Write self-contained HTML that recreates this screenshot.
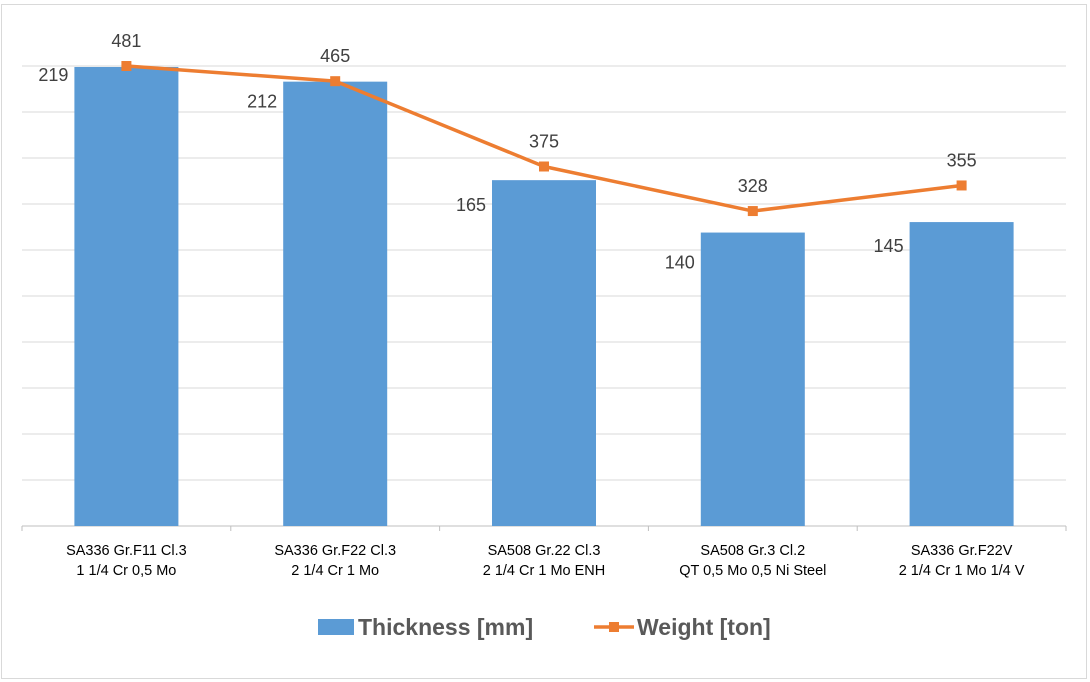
<!DOCTYPE html>
<html><head><meta charset="utf-8"><style>
body{margin:0;background:#fff;}
svg{display:block;font-family:"Liberation Sans",sans-serif;}
</style></head><body>
<svg id="c" width="1090" height="682"></svg>
<script>
const categories1=["SA336 Gr.F11 Cl.3","SA336 Gr.F22 Cl.3","SA508 Gr.22 Cl.3","SA508 Gr.3 Cl.2","SA336 Gr.F22V"];
const categories2=["1 1/4 Cr 0,5 Mo","2 1/4 Cr 1 Mo","2 1/4 Cr 1 Mo ENH","QT 0,5 Mo 0,5 Ni Steel","2 1/4 Cr 1 Mo 1/4 V"];
const thickness=[219,212,165,140,145];
const weight=[481,465,375,328,355];
const NS="http://www.w3.org/2000/svg";
const svg=document.getElementById('c');
function mk(t,a,p){const e=document.createElementNS(NS,t);for(const k in a)e.setAttribute(k,a[k]);(p||svg).appendChild(e);return e;}
const x0=22,x1=1066,base=526,n=categories1.length,cw=(x1-x0)/n;
const labelDrop=[14,26,31,36,30];
const yBar=v=>base-v*2.096;
const yLine=v=>522-v*0.948;
const xc=i=>x0+cw*(i+0.5);
let e;
e=mk('rect',{x:1.5,y:4.5,width:1085,height:674,fill:'#fff',stroke:'#d9d9d9'});


for(let k=1;k<=10;k++){const y=base-46*k;
e=mk('line',{x1:x0,x2:x1,y1:y,y2:y,stroke:'#d9d9d9'});

}
e=mk('line',{x1:x0,x2:x1,y1:base,y2:base,stroke:'#bfbfbf'});


for(let i=0;i<=n;i++){const x=x0+cw*i;
e=mk('line',{x1:x,x2:x,y1:base,y2:base+5,stroke:'#bfbfbf'});

}
thickness.forEach((v,i)=>{
e=mk('rect',{x:xc(i)-52,y:yBar(v),width:104,height:base-yBar(v),fill:'#5b9bd5'});


e=mk('text',{x:xc(i)-58,y:yBar(v)+labelDrop[i],'text-anchor':'end','font-size':18,fill:'#404040'});
e.textContent=v;


e=mk('text',{x:xc(i),y:555,'text-anchor':'middle','font-size':14.5,fill:'#000'});e.textContent=categories1[i];


e=mk('text',{x:xc(i),y:575,'text-anchor':'middle','font-size':14.5,fill:'#000'});e.textContent=categories2[i];


});
e=mk('polyline',{points:weight.map((v,i)=>xc(i)+','+yLine(v)).join(' '),fill:'none',stroke:'#ed7d31','stroke-width':3.5,'stroke-linejoin':'round'});


weight.forEach((v,i)=>{
e=mk('rect',{x:xc(i)-5,y:yLine(v)-5,width:10,height:10,fill:'#ed7d31'});


e=mk('text',{x:xc(i),y:yLine(v)-19,'text-anchor':'middle','font-size':18,fill:'#404040'});e.textContent=v;


});
const lg=mk('g',{});


e=mk('rect',{x:318,y:619,width:36,height:16,fill:'#5b9bd5'},lg);


e=mk('text',{x:358,y:635,'font-size':23,'font-weight':'bold',fill:'#595959'},lg);e.textContent='Thickness [mm]';


e=mk('line',{x1:594,x2:634,y1:627,y2:627,stroke:'#ed7d31','stroke-width':3.5},lg);


e=mk('rect',{x:609,y:622,width:10,height:10,fill:'#ed7d31'},lg);


e=mk('text',{x:637,y:635,'font-size':23,'font-weight':'bold',fill:'#595959'},lg);e.textContent='Weight [ton]';


</script>
</body></html>
